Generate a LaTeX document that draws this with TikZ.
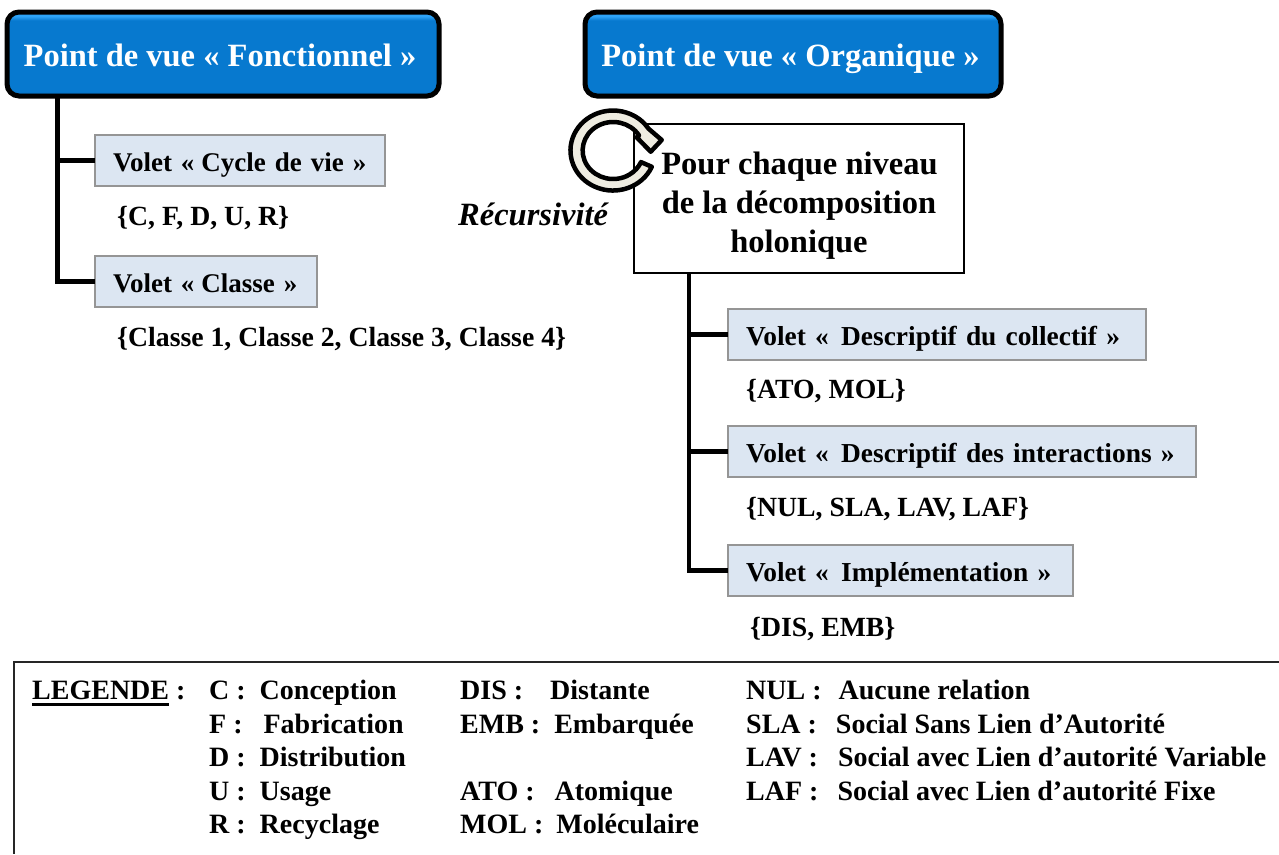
\documentclass[tikz,border=0pt]{standalone}
\usepackage{fontspec}
\setmainfont{Liberation Serif}
\definecolor{hdrblue}{HTML}{0779CF}
\definecolor{hdrlight}{HTML}{2EA3F7}
\definecolor{hdrdark}{HTML}{04508C}
\definecolor{voletfill}{HTML}{DCE6F2}
\definecolor{voletline}{HTML}{959595}
\definecolor{ringfill}{HTML}{EEECE1}
\pgfdeclareverticalshading{hdrshade}{100bp}{
  color(0bp)=(hdrdark);
  color(25bp)=(hdrdark);
  color(27.5bp)=(hdrblue);
  color(70bp)=(hdrblue);
  color(72.5bp)=(hdrlight);
  color(75bp)=(hdrlight);
  color(100bp)=(hdrlight)}
\tikzset{
  x=1pt,y=1pt,
  header/.style={draw=black,line width=5pt,rounded corners=12pt,shading=hdrshade,
    inner sep=0pt,outer sep=0pt,anchor=north west,text=white,minimum height=84pt,
    text height=25pt,text depth=0pt,font=\fontsize{32.5}{36}\selectfont\bfseries},
  volet/.style={draw=voletline,line width=1.3pt,fill=voletfill,anchor=north west,outer sep=0pt,
    inner xsep=18pt,inner ysep=0pt,align=left,minimum height=51pt,
    text height=24pt,text depth=3pt,font=\fontsize{27}{30}\selectfont\bfseries},
  voletwide/.style={volet,font=\fontsize{27.4}{30}\selectfont\bfseries},
  label/.style={anchor=base west,inner sep=0pt,font=\fontsize{27.75}{30}\selectfont\bfseries},
  legend/.style={anchor=base west,inner sep=0pt,font=\fontsize{28}{30}\selectfont\bfseries},
  limb/.style={line width=5pt,black},
  limbright/.style={line width=4.5pt,black},
}
\begin{document}
\begin{tikzpicture}
\useasboundingbox (0,0) rectangle (1279,-854);
% headers
\node[header,minimum width=432pt] (hf) at (7,-12) {\hspace{-6pt}Point de vue « Fonctionnel »};
\node[header,minimum width=416pt] (ho) at (585,-12) {\hspace{-5pt}Point de vue « Organique »};
% left branch
\coordinate (tf) at (57,-97);
\node[volet,text width=254pt] (vc) at (95,-135) {\mbox{Volet «\hspace{7pt}Cycle de vie »}};
\node[volet,text width=186pt] (vk) at (95,-256) {\mbox{Volet «\hspace{7pt}Classe »}};
\draw[limb] (tf) |- (vk.west);
\draw[limb] (tf |- vc.west) -- (vc.west);
\node[label] (lc) at (117,-225) {\{C, F, D, U, R\}};
\node[label] (lk) at (117,-346) {\{Classe 1, Classe 2, Classe 3, Classe 4\}};
% centre box
\node[draw=black,line width=1.5pt,fill=white,anchor=north west,outer sep=0pt,minimum width=330pt,minimum height=149pt,
  align=center,inner sep=0pt,font=\fontsize{32.5}{39}\selectfont\bfseries] (pc) at (634,-124)
  {\rule{0pt}{37pt}\hspace{1pt}Pour chaque niveau\\de la décomposition\\holonique};
\node[anchor=base west,inner sep=0pt,font=\fontsize{32.5}{36}\selectfont\bfseries\itshape] (rc) at (458,-225) {Récursivité};
% ring arrow
\draw[line width=4.5pt,line join=round,fill=ringfill]
  (651.8,-166.8) arc[start angle=-24,end angle=-327,x radius=42.5,y radius=40]
  -- (661.7,-140) -- (650.7,-151.7) -- (636.7,-137.3) -- (639,-135.4)
  arc[start angle=32,end angle=336,x radius=30.5,y radius=28.5] -- cycle;
% right branch
\coordinate (to) at (689,-273);
\node[voletwide,text width=382pt] (vd) at (728,-309) {\mbox{Volet «\hspace{12.5pt}Descriptif du collectif\hspace{9.5pt}»}};
\node[voletwide,text width=432pt] (vi) at (728,-426) {\mbox{Volet «\hspace{12.5pt}Descriptif des interactions »}};
\node[voletwide,text width=309pt] (vm) at (728,-545) {\mbox{Volet «\hspace{12.5pt}Implémentation »}};
\draw[limbright] (to) |- (vm.west);
\draw[limbright] (to |- vd.west) -- (vd.west);
\draw[limbright] (to |- vi.west) -- (vi.west);
\node[label] (ld) at (746,-398) {\{ATO, MOL\}};
\node[label] (li) at (746,-516) {\{NUL, SLA, LAV, LAF\}};
\node[label] (lm) at (750,-636) {\{DIS, EMB\}};
% legend frame
\draw[line width=1.5pt,black!85] (1279,-662) -- (14,-662) -- (14,-854);
\node[legend] (l0) at (32,-699) {\rlap{\rule[-6.5pt]{137pt}{2.5pt}}LEGENDE :};
\node[legend] (a1) at (209,-699) {C :\ \ Conception};
\node[legend] (a2) at (209,-733) {F :\ \ \ Fabrication};
\node[legend] (a3) at (209,-766) {D :\ \ Distribution};
\node[legend] (a4) at (209,-800) {U :\ \ Usage};
\node[legend] (a5) at (209,-833) {R :\ \ Recyclage};
\node[legend] (b1) at (460,-699) {DIS :\ \ \ \hspace{6pt}Distante};
\node[legend] (b2) at (460,-733) {EMB :\ \ Embarquée};
\node[legend] (b3) at (460,-800) {ATO :\ \ \hspace{6pt}Atomique};
\node[legend] (b4) at (460,-833) {MOL :\ \hspace{6pt}Moléculaire};
\node[legend] (c1) at (746,-699) {NUL :\ \ \hspace{3pt}Aucune relation};
\node[legend] (c2) at (746,-733) {SLA :\ \ \hspace{5pt}Social Sans Lien d’Autorité};
\node[legend] (c3) at (746,-766) {LAV :\ \ \hspace{6pt}Social avec Lien d’autorité Variable};
\node[legend] (c4) at (746,-800) {LAF :\ \ \hspace{5pt}Social avec Lien d’autorité Fixe};
\end{tikzpicture}
\end{document}
